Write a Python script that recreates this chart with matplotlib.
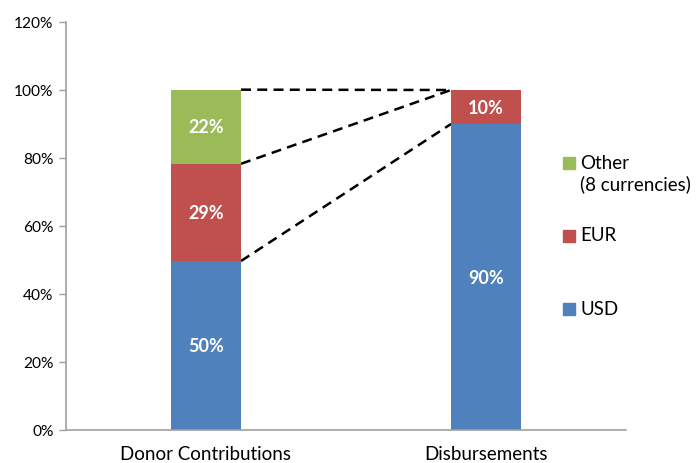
import matplotlib
matplotlib.use("Agg")
import matplotlib.pyplot as plt
from matplotlib.patches import Rectangle
import numpy as np

plt.rcParams['font.family'] = ['Lato', 'DejaVu Sans']

categories = ["Donor Contributions", "Disbursements"]
series_names = ["USD", "EUR", "Other"]
legend_labels = ["USD", "EUR", "Other\n(8 currencies)"]
usd = [49.7, 90.0]
eur = [28.6, 10.0]
other = [21.8, 0.0]
colors = ["#4F81BD", "#C0504D", "#9BBB59"]
yticks = [0, 20, 40, 60, 80, 100, 120]

fig = plt.figure(figsize=(6.96, 4.64), dpi=100)
ax = fig.add_axes([66/696, 33/464, 560/696, 408/464])

x = np.arange(len(categories))
width = 0.25
bottom = np.zeros(len(categories))
tops = []
for vals, col in zip([usd, eur, other], colors):
    vals = np.array(vals)
    ax.bar(x, vals, width, bottom=bottom, color=col, zorder=2)
    for xi, v, b in zip(x, vals, bottom):
        if v > 0:
            ax.text(xi, b + v / 2, f"{v:.0f}%", ha="center", va="center",
                    color="white", fontsize=13, fontweight="bold", zorder=3)
    bottom = bottom + vals
    tops.append(bottom.copy())

# connector dashed lines between cumulative tops
for t in tops:
    ax.plot([x[0] + width / 2, x[1] - width / 2], [t[0], t[1]],
            color="black", linestyle=(0, (4, 2.5)), linewidth=1.8, zorder=1)

ax.set_xlim(-0.5, 1.5)
ax.set_ylim(0, 120)
ax.set_yticks(yticks)
ax.set_yticklabels([f"{v}%" for v in yticks], fontsize=11.2)
ax.set_xticks(x)
ax.set_xticklabels(categories, fontsize=13.5)
ax.tick_params(axis="x", length=0, pad=11)
ax.tick_params(axis="y", length=5, width=1, color="#A0A0A0", pad=4)
for s in ["top", "right"]:
    ax.spines[s].set_visible(False)
for s in ["left", "bottom"]:
    ax.spines[s].set_color("#A0A0A0")
    ax.spines[s].set_linewidth(1.2)

# manual legend (Other, EUR, USD from top)
leg_y = [164, 236.5, 310]
entries = list(zip(legend_labels, colors))[::-1]
for (lab, col), yy in zip(entries, leg_y):
    fig.patches.append(Rectangle((563/696, 1 - (yy + 6)/464), 12/696, 12/464,
                                 transform=fig.transFigure, color=col, figure=fig))
    fig.text(580/696, 1 - (yy - 9)/464, lab, ha="left", va="top", fontsize=13.5,
             linespacing=1.25)

fig.savefig("out.png", dpi=100)
